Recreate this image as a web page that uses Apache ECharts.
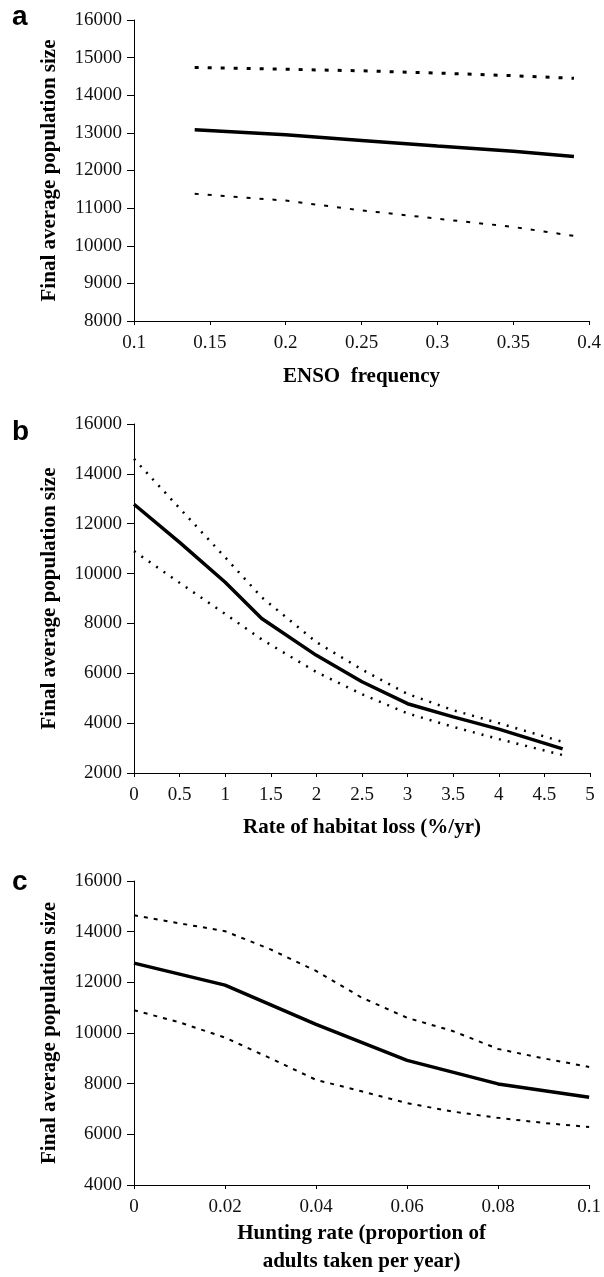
<!DOCTYPE html>
<html>
<head>
<meta charset="utf-8">
<script src="https://cdn.jsdelivr.net/npm/echarts@6/dist/echarts.min.js"></script>
<style>
html,body{margin:0;padding:0;background:#fff;}
#chart{width:604px;height:1277px;}
</style>
</head>
<body>
<div id="chart"></div>
<script>
// Panel a: ENSO frequency
const xA = [0.14, 0.2, 0.25, 0.3, 0.35, 0.39];
const meanA = [13080, 12950, 12800, 12650, 12510, 12370];
const upperA = [14740, 14690, 14650, 14590, 14520, 14450];
const lowerA = [11380, 11200, 10940, 10720, 10500, 10260];

// Panel b: habitat loss
const xB = [0, 0.5, 1, 1.4, 2, 2.5, 3, 3.5, 4, 4.7];
const meanB = [12780, 11250, 9650, 8200, 6720, 5660, 4780, 4250, 3760, 2970];
const upperB = [14600, 12620, 10650, 9050, 7250, 6150, 5170, 4520, 4000, 3250];
const lowerB = [10900, 9630, 8380, 7360, 6050, 5160, 4390, 3850, 3360, 2720];

// Panel c: hunting rate
const xCmean = [0, 0.02, 0.04, 0.06, 0.08, 0.1];
const meanC = [12760, 11890, 10340, 8920, 7990, 7460];
const xCband = [0, 0.01, 0.02, 0.03, 0.04, 0.05, 0.06, 0.07, 0.08, 0.09, 0.1];
const upperC = [14650, 14330, 14020, 13300, 12450, 11400, 10600, 10080, 9370, 9000, 8660];
const lowerC = [10900, 10420, 9820, 9000, 8150, 7700, 7230, 6900, 6650, 6450, 6290];

const panelLabels = ['a', 'b', 'c'];
const yTitle = 'Final average population size';
const xTitles = ['ENSO  frequency', 'Rate of habitat loss (%/yr)', 'Hunting rate (proportion of\nadults taken per year)'];

const pairs = (xs, ys) => xs.map((x, i) => [x, ys[i]]);
const serif = 'Liberation Serif, Times New Roman, serif';
const tickLabel = {color: '#111', fontFamily: serif, fontSize: 19};
const plain = v => String(Math.round(v * 1e6) / 1e6);

function xAxis(gi, min, max, interval, name, gap) {
  return {
    type: 'value', gridIndex: gi, min, max, interval,
    axisLine: {show: true, lineStyle: {color: '#000', width: 1}},
    axisTick: {show: true, length: 4, lineStyle: {color: '#000'}},
    axisLabel: Object.assign({margin: 13, showMaxLabel: true, showMinLabel: true, formatter: plain}, tickLabel),
    splitLine: {show: false},
    name, nameLocation: 'middle', nameGap: gap,
    nameTextStyle: {color: '#000', fontFamily: serif, fontSize: 21, fontWeight: 'bold', lineHeight: 28}
  };
}
function yAxis(gi, min, max, interval) {
  return {
    type: 'value', gridIndex: gi, min, max, interval,
    axisLine: {show: true, lineStyle: {color: '#000', width: 1}},
    axisTick: {show: true, length: 7, lineStyle: {color: '#000'}},
    axisLabel: Object.assign({margin: 12, formatter: plain}, tickLabel),
    splitLine: {show: false},
    name: yTitle, nameLocation: 'middle', nameGap: 74, nameRotate: 90,
    nameTextStyle: {color: '#000', fontFamily: serif, fontSize: 21, fontWeight: 'bold'}
  };
}
function line(gi, data, width, dash) {
  return {
    type: 'line', xAxisIndex: gi, yAxisIndex: gi, data,
    symbol: 'none', smooth: false,
    lineStyle: {color: '#000', width, type: dash || 'solid', cap: 'butt'}
  };
}

const chart = echarts.init(document.getElementById('chart'), null, {renderer: 'canvas'});
chart.setOption({
  animation: false,
  backgroundColor: '#fff',
  grid: [
    {left: 134, top: 20, width: 456, height: 301},
    {left: 134, top: 424, width: 456, height: 349},
    {left: 134, top: 881, width: 456, height: 309}
  ],
  xAxis: [
    xAxis(0, 0.1, 0.4, 0.05, xTitles[0], 42),
    xAxis(1, 0, 5, 0.5, xTitles[1], 41),
    xAxis(2, 0, 0.1, 0.02, xTitles[2], 35)
  ],
  yAxis: [
    yAxis(0, 8000, 16000, 1000),
    yAxis(1, 2000, 16000, 2000),
    yAxis(2, 4000, 16000, 2000)
  ],
  graphic: [
    {type: 'text', left: 12, top: 3, style: {text: panelLabels[0], font: 'bold 28px "Liberation Sans", Arial, sans-serif', fill: '#000'}},
    {type: 'text', left: 12, top: 418, style: {text: panelLabels[1], font: 'bold 28px "Liberation Sans", Arial, sans-serif', fill: '#000'}},
    {type: 'text', left: 12, top: 868, style: {text: panelLabels[2], font: 'bold 28px "Liberation Sans", Arial, sans-serif', fill: '#000'}}
  ],
  series: [
    line(0, pairs(xA, meanA), 3.5),
    line(0, pairs(xA, upperA), 3, [4, 9]),
    line(0, pairs(xA, lowerA), 2, [4, 9]),
    line(1, pairs(xB, meanB), 3.5),
    line(1, pairs(xB, upperB), 2.5, [2, 7]),
    line(1, pairs(xB, lowerB), 2.5, [2, 7]),
    line(2, pairs(xCmean, meanC), 3.5),
    line(2, pairs(xCband, upperC), 2, [4, 6]),
    line(2, pairs(xCband, lowerC), 2, [4, 6])
  ]
});
</script>
</body>
</html>
